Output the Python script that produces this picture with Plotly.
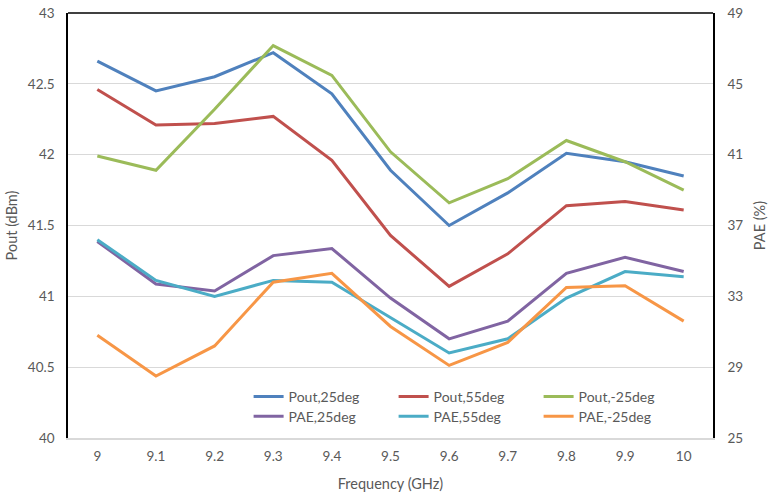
import plotly.graph_objects as go

freq = ["9", "9.1", "9.2", "9.3", "9.4", "9.5", "9.6", "9.7", "9.8", "9.9", "10"]

pout_25 = [42.66, 42.45, 42.55, 42.72, 42.43, 41.89, 41.50, 41.73, 42.01, 41.95, 41.85]
pout_55 = [42.46, 42.21, 42.22, 42.27, 41.96, 41.43, 41.07, 41.30, 41.64, 41.67, 41.61]
pout_m25 = [41.99, 41.89, 42.32, 42.77, 42.56, 42.02, 41.66, 41.83, 42.10, 41.95, 41.75]

pae_25 = [36.1, 33.7, 33.3, 35.3, 35.7, 32.9, 30.6, 31.6, 34.3, 35.2, 34.4]
pae_55 = [36.2, 33.9, 33.0, 33.9, 33.8, 31.8, 29.8, 30.6, 32.9, 34.4, 34.1]
pae_m25 = [30.8, 28.5, 30.2, 33.8, 34.3, 31.3, 29.1, 30.4, 33.5, 33.6, 31.6]

left_ticks = [40, 40.5, 41, 41.5, 42, 42.5, 43]
left_labels = ["40", "40.5", "41", "41.5", "42", "42.5", "43"]
right_ticks = [25, 29, 33, 37, 41, 45, 49]
right_labels = ["25", "29", "33", "37", "41", "45", "49"]

FONT = "Lato"
TXT = "#595959"

fig = go.Figure()

series = [
    ("Pout,25deg", pout_25, "#4F81BD", "y", "legend"),
    ("Pout,55deg", pout_55, "#C0504D", "y", "legend"),
    ("Pout,-25deg", pout_m25, "#9BBB59", "y", "legend"),
    ("PAE,25deg", pae_25, "#8064A2", "y2", "legend2"),
    ("PAE,55deg", pae_55, "#4BACC6", "y2", "legend2"),
    ("PAE,-25deg", pae_m25, "#F79646", "y2", "legend2"),
]
for name, vals, col, ax, lg in series:
    fig.add_trace(go.Scatter(
        x=freq, y=vals, name=name, mode="lines", yaxis=ax, legend=lg,
        line=dict(color=col, width=3),
    ))

legend_common = dict(
    orientation="h", xanchor="left", yanchor="middle",
    font=dict(family=FONT, size=14, color=TXT),
    bgcolor="rgba(255,255,255,0)", entrywidth=100, entrywidthmode="pixels",
    itemwidth=30, tracegroupgap=0,
)

fig.update_layout(
    width=770, height=501,
    margin=dict(l=68, r=57, t=13, b=63),
    paper_bgcolor="white", plot_bgcolor="white",
    font=dict(family=FONT, size=13, color=TXT),
    showlegend=True,
    legend=dict(x=0.28, y=0.097, **legend_common),
    legend2=dict(x=0.28, y=0.05, **legend_common),
    xaxis=dict(
        type="category", range=[-0.5, 10.5], automargin=False,
        showgrid=False, showline=True, linecolor="#D9D9D9", linewidth=1.5,
        ticks="", ticklabelstandoff=5, tickfont=dict(family=FONT, size=13.5, color=TXT),
        title=dict(text="Frequency (GHz)", font=dict(family=FONT, size=14.5, color=TXT), standoff=16),
        zeroline=False,
    ),
    yaxis=dict(
        range=[40, 43], tickvals=left_ticks, ticktext=left_labels, automargin=False,
        showgrid=True, gridcolor="#D9D9D9", gridwidth=1,
        showline=True, linecolor="black", linewidth=1.5, ticks="", ticklabelstandoff=9,
        tickfont=dict(family=FONT, size=13.5, color=TXT),
        title=dict(text="Pout (dBm)", font=dict(family=FONT, size=14.5, color=TXT), standoff=7),
        zeroline=False,
    ),
    yaxis2=dict(
        range=[25, 49], tickvals=right_ticks, ticktext=right_labels, automargin=False,
        overlaying="y", side="right", showgrid=False,
        showline=True, linecolor="black", linewidth=1.5, ticks="", ticklabelstandoff=10,
        tickfont=dict(family=FONT, size=13.5, color=TXT),
        title=dict(text="PAE (%)", font=dict(family=FONT, size=14.5, color=TXT), standoff=13),
        zeroline=False,
    ),
    shapes=[dict(type="line", xref="paper", yref="paper", x0=0, x1=1, y0=1, y1=1,
                 line=dict(color="black", width=1.5))],
)

fig.write_html("out.html", config={"displayModeBar": False},
               post_script="document.body.style.margin='0';")
